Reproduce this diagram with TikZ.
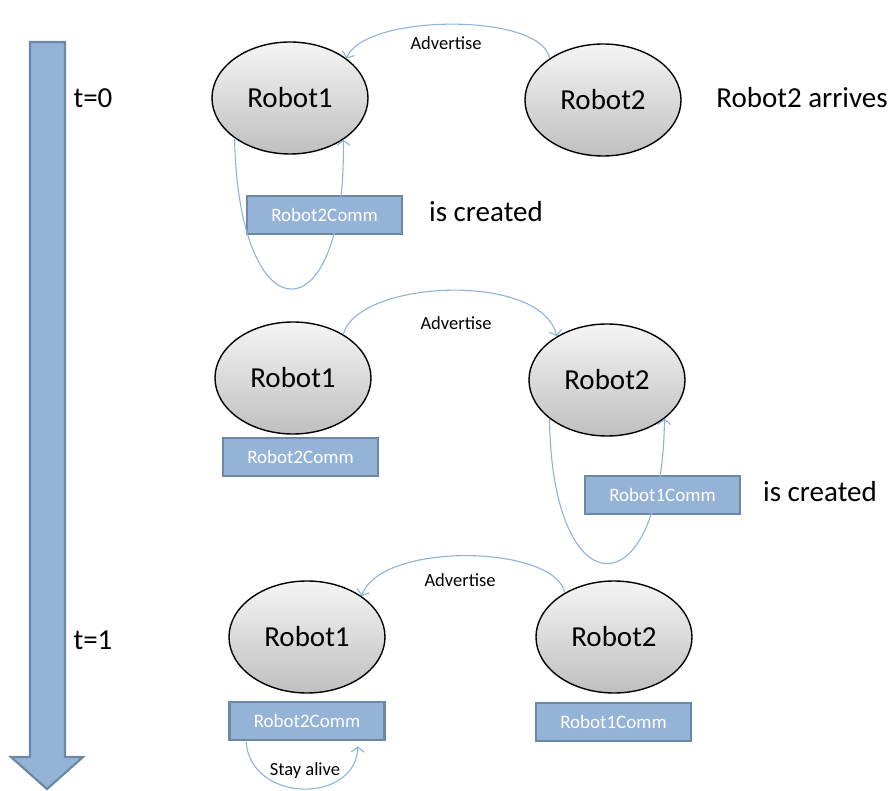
\documentclass[tikz,border=0pt]{standalone}
\usepackage{fontspec}
\setmainfont{Carlito}
\usetikzlibrary{shapes.geometric,arrows.meta}
\definecolor{linkblue}{HTML}{8FB3DA}
\definecolor{boxfill}{HTML}{95B3D7}
\definecolor{boxedge}{HTML}{6C88A4}
\begin{document}
\begin{tikzpicture}[x=1pt,y=-1pt,
  robot/.style={ellipse,draw=black,line width=1.4pt,minimum width=156pt,minimum height=112pt,inner sep=0pt,
    top color=black!4,bottom color=black!25,font=\fontsize{29}{34}\selectfont},
  comm/.style={rectangle,draw=boxedge,fill=boxfill,line width=2.8pt,minimum width=155pt,minimum height=38pt,
    inner sep=0pt,text=white,font=\fontsize{19}{22}\selectfont},
  big/.style={font=\fontsize{29}{34}\selectfont,inner sep=0pt},
  small/.style={font=\fontsize{18.5}{21}\selectfont,inner sep=0pt},
  link/.style={draw=linkblue,line width=1.1pt,-{Straight Barb[length=5pt,width=13pt,line width=1.1pt]}}]
\useasboundingbox (0,0) rectangle (892,791);
% time arrow
\draw[draw=boxedge,fill=boxfill,line width=2.2pt,line join=miter]
  (30,42) -- (65,42) -- (65,757) -- (83,757) -- (47,789) -- (11,757) -- (30,757) -- cycle;
\node[big] (t0) at (93,98) {t=0};
\node[big] (t1) at (93,640) {t=1};
% row 1
\node[robot] (r1a) at (290,98) {Robot1};
\node[robot] (r2a) at (603,100) {Robot2};
\node[big] (arr) at (802,98) {Robot2 arrives};
\node[comm] (c1a) at (324.5,215) {Robot2Comm};
\node[big] (cr1) at (486,212) {is created};
\draw[link] (r2a.142) .. controls +(-8,-46) and +(18,-45) .. (r1a.35);
\node[small] (adv1) at (446,43) {Advertise};
\draw[link] (r1a.216) .. controls +(4,202) and +(3,198) .. (r1a.322);
% row 2
\node[robot] (r1b) at (293,378) {Robot1};
\node[robot] (r2b) at (607,380) {Robot2};
\node[comm] (c1b) at (300.5,457) {Robot2Comm};
\node[comm] (c2b) at (662.5,495) {Robot1Comm};
\node[big] (cr2) at (820,492) {is created};
\draw[link] (r1b.41) .. controls +(15,-55) and +(-15,-65) .. (r2b.139);
\node[small] (adv2) at (456,323) {Advertise};
\draw[link] (r2b.214) .. controls +(2,193) and +(-2,193) .. (r2b.326);
% row 3
\node[robot] (r1c) at (307,637) {Robot1};
\node[robot] (r2c) at (614,637) {Robot2};
\node[comm] (c1c) at (307,721) {Robot2Comm};
\node[comm] (c2c) at (613.5,722) {Robot1Comm};
\draw[link] (r2c.138) .. controls +(-10,-48) and +(20,-55) .. (r1c.37);
\node[small] (adv3) at (460,580) {Advertise};
\draw[link] ([xshift=18pt]c1c.south west) .. controls +(4,62) and +(-2,58) .. ([xshift=-28pt,yshift=-5pt]c1c.south east);
\node[small] (stay) at (305,771) {Stay alive};
\end{tikzpicture}
\end{document}
